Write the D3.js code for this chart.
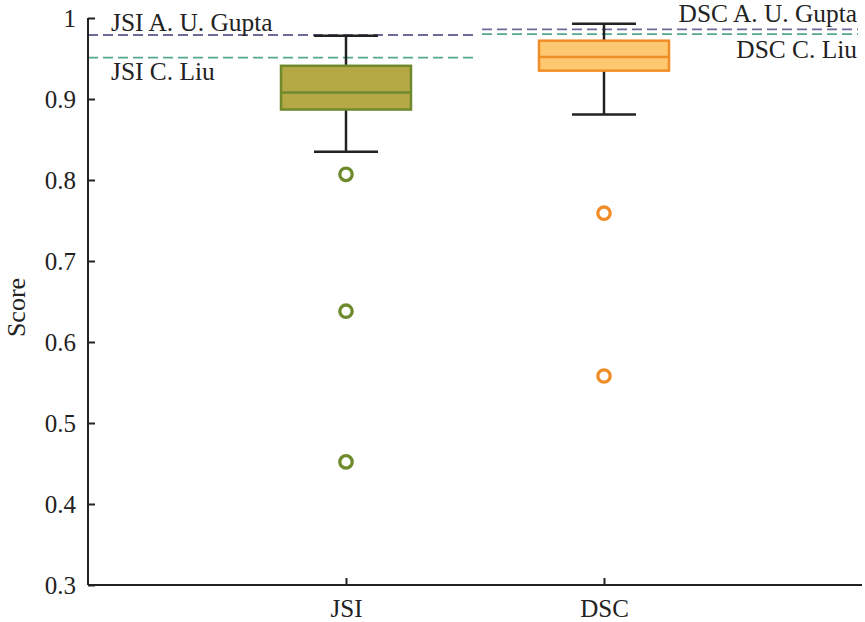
<!DOCTYPE html>
<html><head><meta charset="utf-8">
<script src="https://cdn.jsdelivr.net/npm/d3@7"></script>
<style>body{margin:0;background:#fff}</style>
</head><body><svg id="c" width="865" height="622"></svg>
<script>
const categories = ["JSI", "DSC"];
const whiskerLow = [0.835, 0.881];
const q1 = [0.887, 0.935];
const median = [0.908, 0.952];
const q3 = [0.941, 0.972];
const whiskerHigh = [0.978, 0.993];
const outliers = [[0.807, 0.638, 0.452], [0.759, 0.558]];
const refLabels = ["JSI A. U. Gupta", "JSI C. Liu", "DSC A. U. Gupta", "DSC C. Liu"];
const refValues = [0.979, 0.951, 0.986, 0.980];
const refGroup = ["JSI", "JSI", "DSC", "DSC"];
const yTicks = [0.3, 0.4, 0.5, 0.6, 0.7, 0.8, 0.9, 1];

const fills = ["#b4a945", "#fec873"];
const strokes = ["#6e8a2c", "#f08d26"];
const refColors = ["#6b6b99", "#55a88e", "#6b6b99", "#55a88e"];
const FONT = '"Liberation Serif", "Times New Roman", Times, "DejaVu Serif", serif';

const svg = d3.select("#c");
const m = {l: 88, r: 862, t: 18, b: 585};
const x = d3.scalePoint().domain(categories).range([m.l, m.r]).padding(1);
const y = d3.scaleLinear().domain([0.3, 1]).range([m.b, m.t]);
const boxW = 130, capW = 64;

const refX = {JSI: [m.l, 473], DSC: [482, 858]};
svg.selectAll("line.ref").data(refValues).join("line")
  .attr("x1", (d, i) => refX[refGroup[i]][0]).attr("x2", (d, i) => refX[refGroup[i]][1])
  .attr("y1", d => y(d)).attr("y2", d => y(d))
  .attr("stroke", (d, i) => refColors[i]).attr("stroke-width", 1.8)
  .attr("stroke-dasharray", "10,5");

categories.forEach((c, i) => {
  const cx = x(c);
  const g = svg.append("g");
  g.append("line").attr("x1", cx).attr("x2", cx).attr("y1", y(whiskerHigh[i])).attr("y2", y(q3[i]))
    .attr("stroke", "#222").attr("stroke-width", 2.5);
  g.append("line").attr("x1", cx).attr("x2", cx).attr("y1", y(q1[i])).attr("y2", y(whiskerLow[i]))
    .attr("stroke", "#222").attr("stroke-width", 2.5);
  [whiskerHigh[i], whiskerLow[i]].forEach(v => {
    g.append("line").attr("x1", cx - capW / 2).attr("x2", cx + capW / 2).attr("y1", y(v)).attr("y2", y(v))
      .attr("stroke", "#222").attr("stroke-width", 2.5);
  });
  g.append("rect").attr("x", cx - boxW / 2).attr("width", boxW)
    .attr("y", y(q3[i])).attr("height", y(q1[i]) - y(q3[i]))
    .attr("fill", fills[i]).attr("stroke", strokes[i]).attr("stroke-width", 2.5);
  g.append("line").attr("x1", cx - boxW / 2).attr("x2", cx + boxW / 2)
    .attr("y1", y(median[i])).attr("y2", y(median[i]))
    .attr("stroke", strokes[i]).attr("stroke-width", 2.5);
  g.selectAll("circle").data(outliers[i]).join("circle")
    .attr("cx", cx).attr("cy", d => y(d)).attr("r", 6.2)
    .attr("fill", "none").attr("stroke", strokes[i]).attr("stroke-width", 3.3);
});

const yAxis = svg.append("g").attr("transform", `translate(${m.l},0)`)
  .call(d3.axisLeft(y).tickValues(yTicks).tickSizeInner(-7).tickSizeOuter(0).tickPadding(12).tickFormat(d => d === 1 ? "1" : d3.format(".1f")(d)));
const xAxis = svg.append("g").attr("transform", `translate(0,${m.b})`)
  .call(d3.axisBottom(x).tickSizeInner(-7).tickSizeOuter(0).tickPadding(14));
[yAxis, xAxis].forEach(a => {
  a.attr("font-family", FONT).attr("font-size", 25);
  a.select(".domain").attr("stroke", "#222").attr("stroke-width", 2);
  a.selectAll(".tick line").attr("stroke", "#222").attr("stroke-width", 2);
  a.selectAll(".tick text").style("font-family", FONT).style("font-size", "25px").attr("fill", "#222");
});
xAxis.select(".domain").attr("d", `M${m.l},0H${m.r}`);
yAxis.select(".domain").attr("d", `M0,${m.b}V${m.t}`);

svg.append("text").attr("transform", `translate(25,${(m.t + m.b) / 2 + 6}) rotate(-90)`)
  .attr("text-anchor", "middle").style("font-family", FONT).style("font-size", "26px")
  .attr("fill", "#222").text("Score");

const labPos = [
  {x: 111, y: 31, a: "start"},
  {x: 111, y: 80, a: "start"},
  {x: 857, y: 22, a: "end"},
  {x: 857, y: 58, a: "end"}
];
svg.selectAll("text.lab").data(refLabels).join("text").attr("class", "lab")
  .attr("x", (d, i) => labPos[i].x).attr("y", (d, i) => labPos[i].y)
  .attr("text-anchor", (d, i) => labPos[i].a).style("font-family", FONT).style("font-size", "25.4px")
  .attr("fill", "#222").text(d => d);
</script></body></html>
